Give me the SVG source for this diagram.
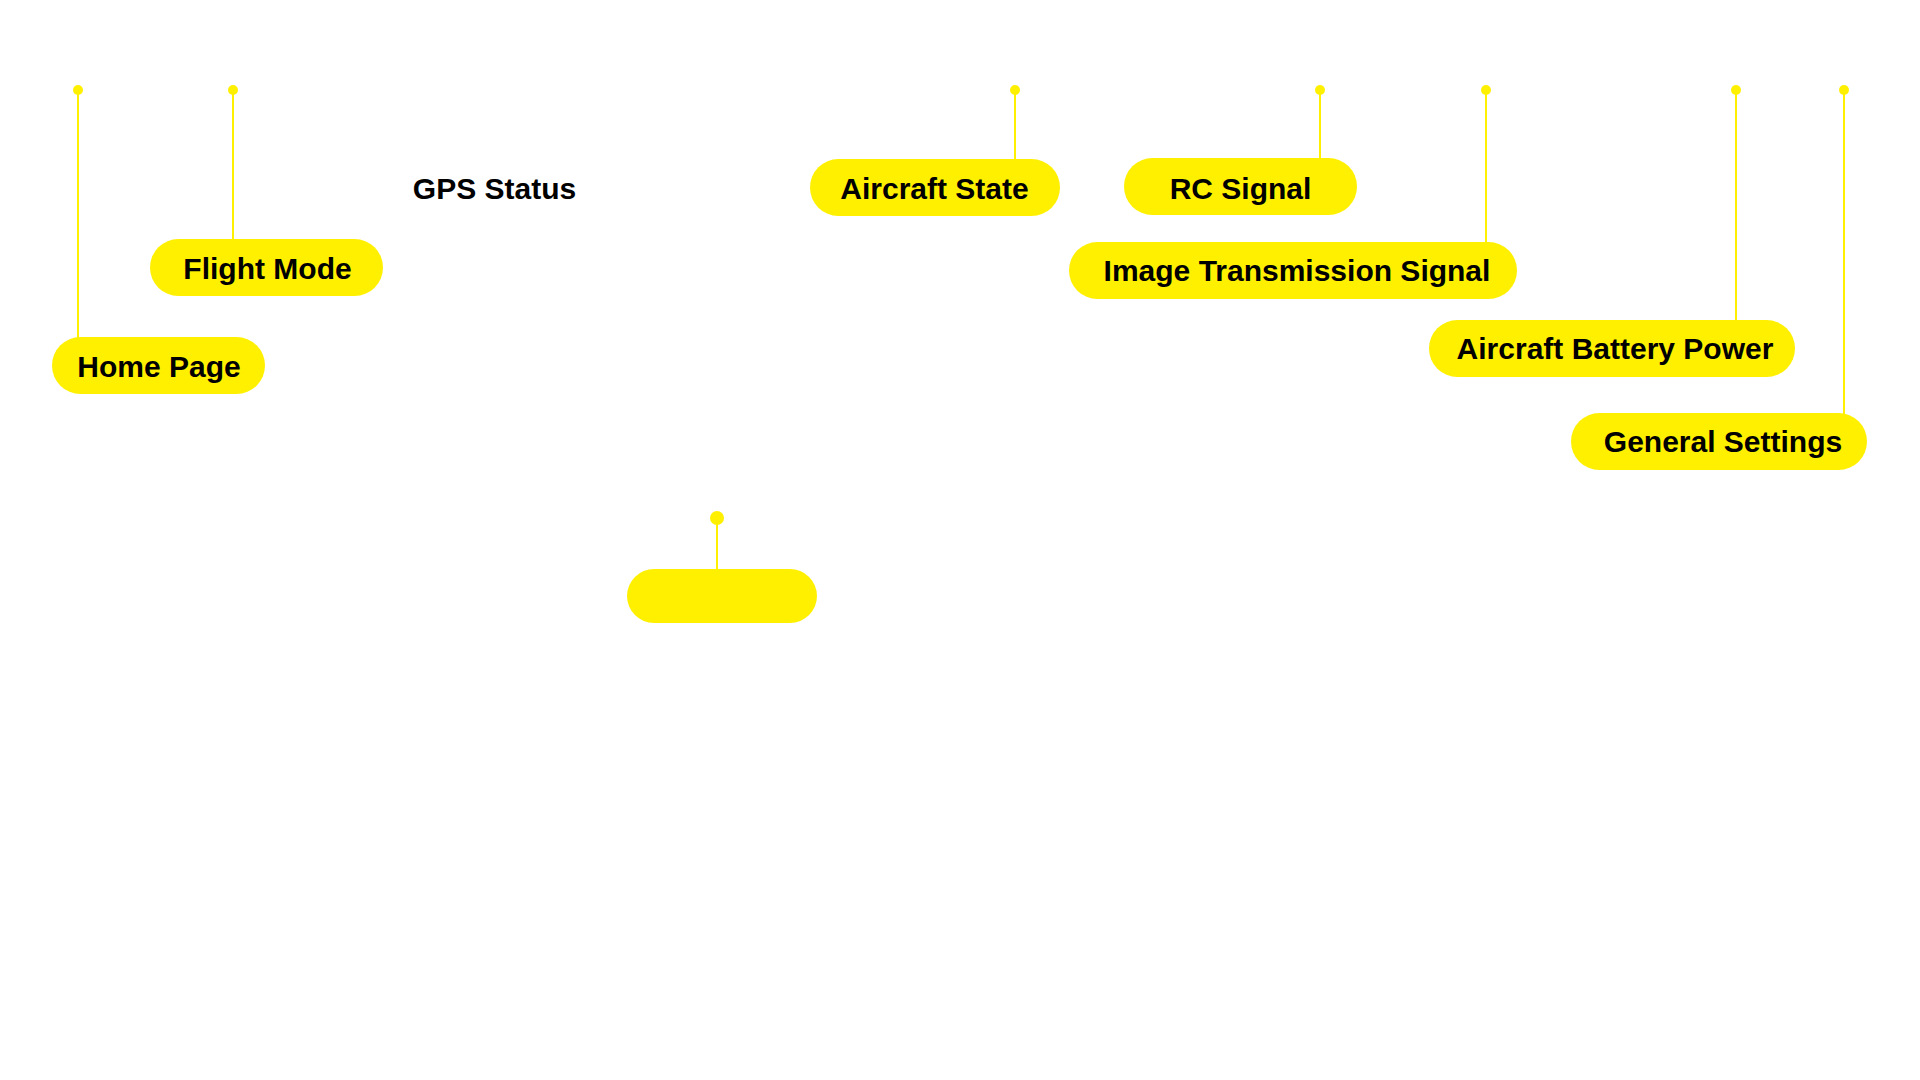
<svg xmlns="http://www.w3.org/2000/svg" width="1920" height="1080" viewBox="0 0 1920 1080">
<style>
.pill{fill:#FFF000}
.lbl{font-family:"Liberation Sans",Arial,sans-serif;font-weight:bold;font-size:30px;fill:#000;text-anchor:middle}
.ln{stroke:#FFF000;stroke-width:2;fill:none}
.dot{fill:#FFF000}
</style>
<rect width="1920" height="1080" fill="#fff"/>
<g id="connectors">
<line class="ln" x1="78" y1="90" x2="78" y2="338"/>
<line class="ln" x1="233" y1="90" x2="233" y2="240"/>
<line class="ln" x1="1015" y1="90" x2="1015" y2="160"/>
<line class="ln" x1="1320" y1="90" x2="1320" y2="159"/>
<line class="ln" x1="1486" y1="90" x2="1486" y2="243"/>
<line class="ln" x1="1736" y1="90" x2="1736" y2="321"/>
<line class="ln" x1="1844" y1="90" x2="1844" y2="414"/>
<line class="ln" x1="717" y1="518" x2="717" y2="570"/>
<circle class="dot" cx="78" cy="90" r="5"/>
<circle class="dot" cx="233" cy="90" r="5"/>
<circle class="dot" cx="1015" cy="90" r="5"/>
<circle class="dot" cx="1320" cy="90" r="5"/>
<circle class="dot" cx="1486" cy="90" r="5"/>
<circle class="dot" cx="1736" cy="90" r="5"/>
<circle class="dot" cx="1844" cy="90" r="5"/>
<circle class="dot" cx="717" cy="518" r="7"/>
</g>
<g id="home-page">
<rect class="pill" x="52" y="337" width="213" height="57" rx="28.5"/>
<text class="lbl" x="159" y="377">Home Page</text>
</g>
<g id="flight-mode">
<rect class="pill" x="150" y="239" width="233" height="57" rx="28.5"/>
<text class="lbl" x="267.5" y="278.5">Flight Mode</text>
</g>
<g id="gps-status">
<text class="lbl" x="494.5" y="199">GPS Status</text>
</g>
<g id="aircraft-state">
<rect class="pill" x="810" y="159" width="250" height="57" rx="28.5"/>
<text class="lbl" x="934.5" y="199">Aircraft State</text>
</g>
<g id="rc-signal">
<rect class="pill" x="1124" y="158" width="233" height="57" rx="28.5"/>
<text class="lbl" x="1240.5" y="199">RC Signal</text>
</g>
<g id="image-transmission-signal">
<rect class="pill" x="1069" y="242" width="448" height="57" rx="28.5"/>
<text class="lbl" x="1297" y="281">Image Transmission Signal</text>
</g>
<g id="aircraft-battery-power">
<rect class="pill" x="1429" y="320" width="366" height="57" rx="28.5"/>
<text class="lbl" x="1615" y="359">Aircraft Battery Power</text>
</g>
<g id="general-settings">
<rect class="pill" x="1571" y="413" width="296" height="57" rx="28.5"/>
<text class="lbl" x="1723" y="452">General Settings</text>
</g>
<g id="blank-node">
<rect class="pill" x="627" y="569" width="190" height="54" rx="27"/>
</g>
</svg>
